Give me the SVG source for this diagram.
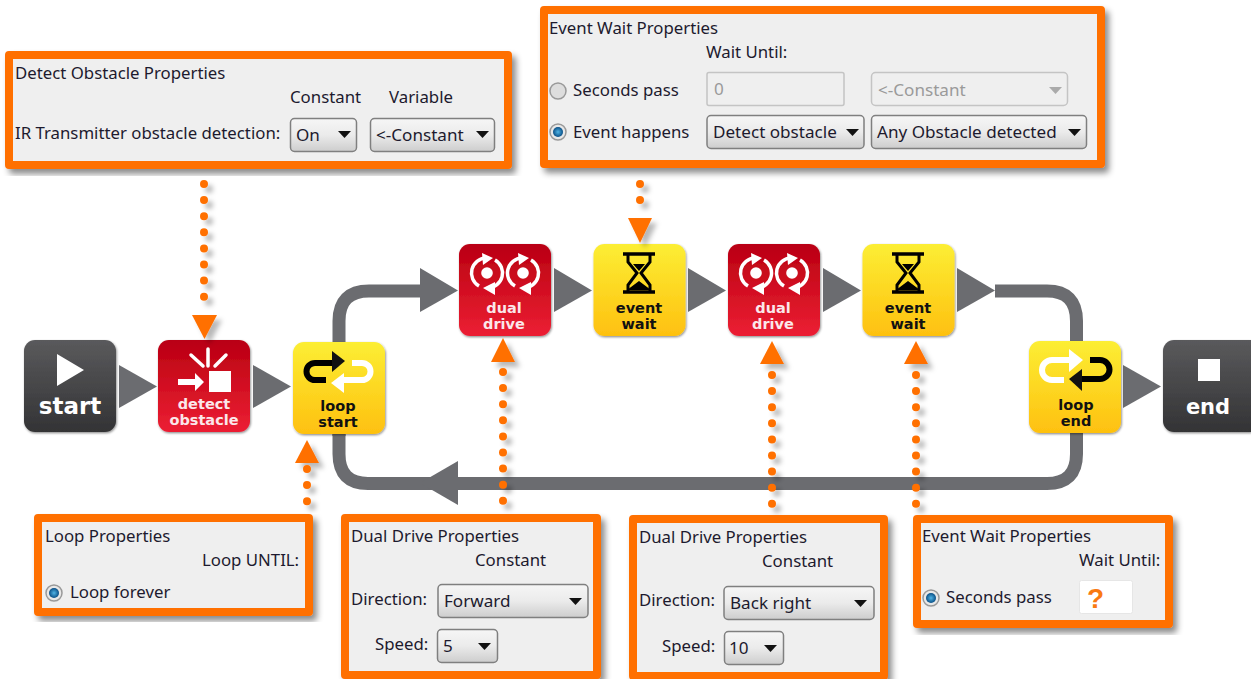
<svg xmlns="http://www.w3.org/2000/svg" width="1251" height="679" viewBox="0 0 1251 679">
<style>
.t{font-family:"Noto Sans","Open Sans",sans-serif;font-size:16.8px;fill:#1d1a2e}
.c{font-size:17.1px}
.g{fill:#9a9a9a}
.panel{fill:#efefef;stroke:#ff6f00;stroke-width:8;stroke-linejoin:round;filter:url(#ps)}
.combo{fill:url(#cg);stroke:#7f7f7f;stroke-width:1.5}
.dis{fill:#efefef;stroke:#c4c4c4;stroke-width:1.5}
.tri{fill:#111}
.dots{fill:none;stroke:#ff7000;stroke-width:8;stroke-linecap:round;stroke-dasharray:0 16.1}
.oa{fill:#ff7000}
.flow{fill:#6b6c70}
.line{fill:none;stroke:#6b6c70;stroke-width:13}
.nl{font-family:"DejaVu Sans",sans-serif;font-size:14.5px;font-weight:bold;text-anchor:middle}
.w{fill:#fff}.b{fill:#111}
.dw{fill:#fbe7ea}
.ws{fill:none;stroke:#fff;stroke-width:6}
.bs{fill:none;stroke:#000;stroke-width:6}
.ds{fill:none;stroke:#fff;stroke-width:3.5}
</style>
<defs>
<linearGradient id="cg" x1="0" y1="0" x2="0" y2="1"><stop offset="0" stop-color="#f6f6f6"/><stop offset="0.5" stop-color="#ebebeb"/><stop offset="1" stop-color="#cdcdcd"/></linearGradient>
<linearGradient id="kg" x1="0" y1="0" x2="0" y2="1"><stop offset="0" stop-color="#5a5a5c"/><stop offset="1" stop-color="#333335"/></linearGradient>
<linearGradient id="rg" x1="0" y1="0" x2="0" y2="1"><stop offset="0" stop-color="#b90012"/><stop offset="1" stop-color="#ec1f33"/></linearGradient>
<linearGradient id="yg" x1="0" y1="0" x2="0" y2="1"><stop offset="0" stop-color="#fcee34"/><stop offset="1" stop-color="#fec010"/></linearGradient>
<radialGradient id="rb"><stop offset="0" stop-color="#4fb4e6"/><stop offset="1" stop-color="#0a4f86"/></radialGradient>
<filter id="ps" x="-5%" y="-5%" width="112%" height="115%"><feDropShadow dx="4" dy="5" stdDeviation="3" flood-color="#000" flood-opacity="0.45"/></filter>
<filter id="ds" x="-50%" y="-10%" width="250%" height="125%"><feDropShadow dx="5" dy="5" stdDeviation="2.5" flood-color="#000" flood-opacity="0.28"/></filter>
<filter id="ns" x="-5%" y="-5%" width="110%" height="110%"><feDropShadow dx="0.8" dy="1.2" stdDeviation="0.8" flood-color="#000" flood-opacity="0.45"/></filter>
<rect id="node" width="92" height="92" rx="11" filter="url(#ns)"/>
<g id="hour">
<path d="M-16 -19H16M-16 19H16" stroke="#000" stroke-width="3.500" fill="none"/>
<path d="M-11 -19V-11L-2 0L-11 12V19M11 -19V-11L2 0L11 12V19" stroke="#000" stroke-width="3" fill="none"/>
<path d="M-6 -9H6L0 -2ZM-12 17L0 8L12 17Z" fill="#000"/>
</g>
<g id="dual">
<circle cx="0" cy="0" r="5.800" fill="#fff"/>
<path class="ds" d="M-8 13A15 15 0 0 1 -1 -15"/>
<path d="M-5 -20L6 -15L-4 -8Z" fill="#fff"/>
<path class="ds" d="M8 -13A15 15 0 0 1 1 15"/>
<path d="M-4 15L8 9L8 22Z" fill="#fff"/>
</g>
</defs>
<rect width="1251" height="679" fill="#fff"/>

<g id="connectors">
<path class="line" d="M339 436V321Q339 291 369 291H421"/>
<path class="line" d="M995 291H1047Q1076.500 291 1076.500 321V454Q1076.500 483.500 1047 483.500H368Q339 483.500 339 454V432"/>
<path class="flow" d="M119 365L157 386.500L119 408Z"/>
<path class="flow" d="M253 365L291 386.500L253 408Z"/>
<path class="flow" d="M420 268L458 290.500L420 312Z"/>
<path class="flow" d="M554 268L592 290.500L554 312Z"/>
<path class="flow" d="M688 268L726 290.500L688 312Z"/>
<path class="flow" d="M823 268L861 290.500L823 312Z"/>
<path class="flow" d="M957 268L995 290.500L957 312Z"/>
<path class="flow" d="M458 461L420 483L458 505Z"/>
<path class="flow" d="M1123 365L1161 386.500L1123 408Z"/>
</g>

<g id="node-start">
<use href="#node" x="24" y="340" fill="url(#kg)"/>
<path class="w" d="M57 354L84 370L57 386Z"/>
<text x="70" y="414" text-anchor="middle" font-family="DejaVu Sans,sans-serif" font-weight="bold" font-size="23" fill="#fff">start</text>
</g>
<g id="node-detect">
<use href="#node" x="158" y="340" fill="url(#rg)"/>
<path class="w" d="M209 371H231V392H209ZM178 379H195V373L204 382L195 391V385H178Z"/>
<path d="M208 349V366M191 355L203 366M226 355L215 366" stroke="#fff" stroke-width="3.500" fill="none" stroke-linecap="round"/>
<text class="nl dw" x="204" y="409">detect</text>
<text class="nl dw" x="204" y="425">obstacle</text>
</g>
<g id="node-loop-start">
<use href="#node" x="293" y="342" fill="url(#yg)"/>
<path class="ws" d="M352 363H362A8.500 8.500 0 0 1 362 380H342"/>
<path class="w" d="M331 383L344 373V393Z"/>
<path class="bs" d="M326 380H315A8.500 8.500 0 0 1 315 363H335"/>
<path class="b" d="M345 361L332 351V372Z"/>
<text class="nl b" x="338" y="411">loop</text>
<text class="nl b" x="338" y="427">start</text>
</g>
<g id="node-dual-1">
<use href="#node" x="459" y="244" fill="url(#rg)"/>
<use href="#dual" x="487" y="273"/><use href="#dual" x="523" y="273"/>
<text class="nl dw" x="504" y="313">dual</text>
<text class="nl dw" x="504" y="329">drive</text>
</g>
<g id="node-event-1">
<use href="#node" x="593.500" y="244" fill="url(#yg)"/>
<use href="#hour" x="639" y="273"/>
<text class="nl b" x="639" y="313">event</text>
<text class="nl b" x="639" y="329">wait</text>
</g>
<g id="node-dual-2">
<use href="#node" x="728" y="244" fill="url(#rg)"/>
<use href="#dual" x="756" y="273"/><use href="#dual" x="792" y="273"/>
<text class="nl dw" x="773" y="313">dual</text>
<text class="nl dw" x="773" y="329">drive</text>
</g>
<g id="node-event-2">
<use href="#node" x="862.500" y="244" fill="url(#yg)"/>
<use href="#hour" x="908" y="273"/>
<text class="nl b" x="908" y="313">event</text>
<text class="nl b" x="908" y="329">wait</text>
</g>
<g id="node-loop-end">
<use href="#node" x="1029" y="341" fill="url(#yg)"/>
<path class="ws" d="M1064 380H1052A10 10 0 0 1 1052 360H1071"/>
<path class="w" d="M1083 360L1069 349V372Z"/>
<path class="bs" d="M1090 360H1100A9.500 9.500 0 0 1 1100 379H1079"/>
<path class="b" d="M1069 379L1082 369V391Z"/>
<text class="nl b" x="1076" y="410">loop</text>
<text class="nl b" x="1076" y="426">end</text>
</g>
<g id="node-end">
<path d="M1174 340H1251V432H1174A11 11 0 0 1 1163 421V351A11 11 0 0 1 1174 340Z" fill="url(#kg)" filter="url(#ns)"/>
<rect class="w" x="1198" y="359" width="22" height="22"/>
<text x="1208" y="414" text-anchor="middle" font-family="DejaVu Sans,sans-serif" font-weight="bold" font-size="21" fill="#fff">end</text>
</g>

<g id="pointers">
<g filter="url(#ds)"><path class="dots" d="M204 184V312"/><path class="oa" d="M192 315H217L204.500 339Z"/></g>
<g filter="url(#ds)"><path class="dots" d="M640 184V216"/><path class="oa" d="M628 218H652L640 243Z"/></g>
<g filter="url(#ds)"><path class="dots" d="M307 469V503"/><path class="oa" d="M295 463H319L307 440Z"/></g>
<g filter="url(#ds)"><path class="dots" d="M503 372V503"/><path class="oa" d="M491 362H515L503 338Z"/></g>
<g filter="url(#ds)"><path class="dots" d="M772 375V506"/><path class="oa" d="M760 364H784L772 341Z"/></g>
<g filter="url(#ds)"><path class="dots" d="M916 375V506"/><path class="oa" d="M904 364H928L916 341Z"/></g>
</g>

<g id="panel-detect">
<rect class="panel" x="9" y="55" width="499" height="110"/>
<text class="t" x="15" y="79">Detect Obstacle Properties</text>
<text class="t" x="290" y="103">Constant</text>
<text class="t" x="389" y="103">Variable</text>
<text class="t" x="15" y="139">IR Transmitter obstacle detection:</text>
<rect class="combo" x="290.500" y="118.500" width="66" height="33" rx="4"/>
<text class="t c" x="296" y="141">On</text><path class="tri" d="M338 131H351L344.500 138Z"/>
<rect class="combo" x="370.500" y="118.500" width="124" height="33" rx="4"/>
<text class="t c" x="376" y="141">&lt;-Constant</text><path class="tri" d="M476 131H489L482.500 138Z"/>
</g>
<g id="panel-event-top">
<rect class="panel" x="544" y="10" width="557" height="154"/>
<text class="t" x="549" y="34">Event Wait Properties</text>
<text class="t" x="706" y="58">Wait Until:</text>
<circle cx="558" cy="91" r="8" fill="#ddd" stroke="#999" stroke-width="1.500"/>
<text class="t" x="573" y="96">Seconds pass</text>
<rect class="dis" x="707" y="72.500" width="137" height="33" rx="2"/>
<text class="t c g" x="714" y="95">0</text>
<rect class="dis" x="871.500" y="72.500" width="196" height="33" rx="4"/>
<text class="t c g" x="878" y="96">&lt;-Constant</text><path d="M1049 87H1062L1055.500 94Z" fill="#aaa"/>
<circle cx="558" cy="132" r="8" fill="#e8e8e8" stroke="#999" stroke-width="1.500"/><circle cx="558" cy="132" r="5" fill="url(#rb)"/>
<text class="t" x="573" y="138">Event happens</text>
<rect class="combo" x="707" y="115.500" width="157" height="33" rx="4"/>
<text class="t c" x="713" y="138">Detect obstacle</text><path class="tri" d="M846 129H859L852.500 136Z"/>
<rect class="combo" x="871.500" y="115.500" width="215" height="33" rx="4"/>
<text class="t c" x="877" y="138">Any Obstacle detected</text><path class="tri" d="M1068 129H1081L1074.500 136Z"/>
</g>
<g id="panel-loop">
<rect class="panel" x="38" y="518" width="271" height="94"/>
<text class="t" x="45" y="542">Loop Properties</text>
<text class="t" x="202" y="566">Loop UNTIL:</text>
<circle cx="54" cy="593" r="8" fill="#e8e8e8" stroke="#999" stroke-width="1.500"/><circle cx="54" cy="593" r="5" fill="url(#rb)"/>
<text class="t" x="70" y="598">Loop forever</text>
</g>
<g id="panel-dual-1">
<rect class="panel" x="345" y="518" width="252" height="157"/>
<text class="t" x="351" y="542">Dual Drive Properties</text>
<text class="t" x="475" y="566">Constant</text>
<text class="t" x="351" y="605">Direction:</text>
<rect class="combo" x="438" y="584.500" width="150" height="33" rx="4"/>
<text class="t c" x="444" y="607">Forward</text><path class="tri" d="M569 598H582L575.500 605Z"/>
<text class="t" x="375" y="650">Speed:</text>
<rect class="combo" x="437.500" y="629.500" width="60" height="33" rx="4"/>
<text class="t c" x="443" y="652">5</text><path class="tri" d="M478 643H491L484.500 650Z"/>
</g>
<g id="panel-dual-2">
<rect class="panel" x="633" y="519" width="251" height="157"/>
<text class="t" x="639" y="543">Dual Drive Properties</text>
<text class="t" x="762" y="567">Constant</text>
<text class="t" x="639" y="606">Direction:</text>
<rect class="combo" x="724" y="586.500" width="150" height="33" rx="4"/>
<text class="t c" x="730" y="609">Back right</text><path class="tri" d="M854 600H867L860.500 607Z"/>
<text class="t" x="662" y="652">Speed:</text>
<rect class="combo" x="724.500" y="631.500" width="59" height="33" rx="4"/>
<text class="t c" x="729" y="654">10</text><path class="tri" d="M764 645H777L770.500 652Z"/>
</g>
<g id="panel-event-2">
<rect class="panel" x="917" y="519" width="252" height="105"/>
<text class="t" x="922" y="542">Event Wait Properties</text>
<text class="t" x="1079" y="566">Wait Until:</text>
<circle cx="931" cy="598" r="8" fill="#e8e8e8" stroke="#999" stroke-width="1.500"/><circle cx="931" cy="598" r="5" fill="url(#rb)"/>
<text class="t" x="946" y="603">Seconds pass</text>
<rect x="1079.500" y="580.500" width="53" height="33" rx="2" fill="#fff" stroke="#e6e6e6"/>
<text x="1087" y="608" font-family="Liberation Sans,sans-serif" font-weight="bold" font-size="28" fill="#f97a12">?</text>
</g>
</svg>
